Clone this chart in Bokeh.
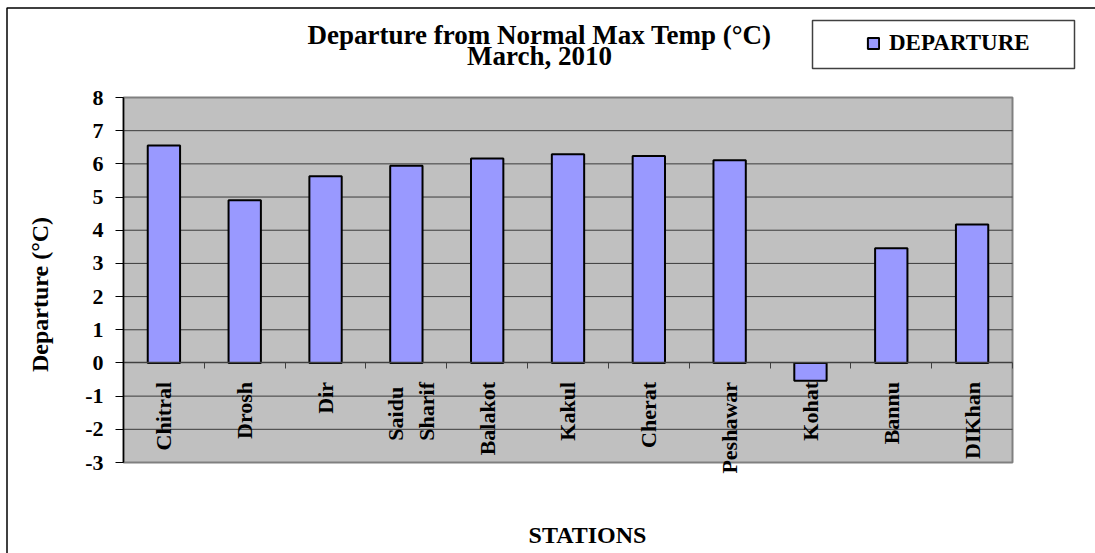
import math

from bokeh.embed import file_html
from bokeh.models import (BoxAnnotation, ColumnDataSource, FixedTicker, Label,
                          LabelSet, Legend, LegendItem, Range1d)
from bokeh.plotting import figure
from bokeh.resources import INLINE

# Departure of monthly mean maximum temperature from normal, March 2010
stations = ["Chitral", "Drosh", "Dir", "Saidu\nSharif", "Balakot", "Kakul",
            "Cherat", "Peshawar", "Kohat", "Bannu", "DIKhan"]
departure = [6.55, 4.90, 5.63, 5.94, 6.16, 6.29, 6.24, 6.11, -0.54, 3.46, 4.17]
y_ticks = list(range(-3, 9))

title_line1 = "Departure from Normal Max Temp (°C)"
title_line2 = "March, 2010"
y_title = "Departure  (°C)"
x_title = "STATIONS"
series_name = "DEPARTURE"

W, H = 1095, 553
FONT = "Liberation Serif"
BAR_FILL = "#9999FF"
PLOT_BG = "#C0C0C0"

# the plotting area occupies this pixel box of the canvas; the ranges are
# stretched so that the whole canvas is drawable (nothing gets clipped)
AREA_L, AREA_R, AREA_T, AREA_B = 123, 1012, 97, 462
n = len(stations)
y_lo, y_hi = min(y_ticks), max(y_ticks)
px_x = (AREA_R - AREA_L) / n
px_y = (AREA_B - AREA_T) / (y_hi - y_lo)
x_range = Range1d(-AREA_L / px_x, n + (W - AREA_R) / px_x)
y_range = Range1d(y_lo - (H - AREA_B) / px_y, y_hi + AREA_T / px_y)

positions = [i + 0.5 for i in range(n)]
# two-line station names sit slightly right of the bar centre
label_dx = [5 if "\n" in s else 0 for s in stations]
source = ColumnDataSource(dict(x=positions, dep=departure, station=stations,
                               base=[0] * n, dx=label_dx))
grid_y = [t for t in y_ticks if y_lo < t < y_hi and t != 0]
grid_src = ColumnDataSource(dict(y=grid_y, x0=[0] * len(grid_y), x1=[n] * len(grid_y)))

p = figure(width=W, height=H, output_backend="svg", toolbar_location=None,
           x_range=x_range, y_range=y_range, title=None,
           min_border_left=0, min_border_right=0, min_border_top=0,
           min_border_bottom=0)
p.background_fill_color = "white"
p.border_fill_color = "white"
p.outline_line_color = None
p.grid.visible = False

# plot area panel
p.add_layout(BoxAnnotation(left=0, right=n, bottom=y_lo, top=y_hi, level="image",
                           fill_color=PLOT_BG, fill_alpha=1,
                           line_color="#808080", line_alpha=1, line_width=2))

# horizontal gridlines
p.segment(x0="x0", x1="x1", y0="y", y1="y", source=grid_src,
          line_color="#3a3a3a", line_width=1)

# value axis on the left edge of the plot area
p.yaxis.fixed_location = 0
p.yaxis.bounds = (y_lo, y_hi)
p.yaxis.ticker = FixedTicker(ticks=y_ticks)
p.yaxis.major_label_overrides = {t: str(t) for t in y_ticks}
p.yaxis.axis_line_color = "black"
p.yaxis.axis_line_width = 1.5
p.yaxis.major_tick_line_color = "black"
p.yaxis.major_tick_out = 8
p.yaxis.major_tick_in = 0
p.yaxis.minor_tick_line_color = None
p.yaxis.major_label_standoff = 12
p.yaxis.major_label_text_font = FONT
p.yaxis.major_label_text_font_style = "bold"
p.yaxis.major_label_text_font_size = "22px"
p.yaxis.major_label_text_color = "black"

# category axis on the zero line with ticks between stations
x_ticks = list(range(1, n + 1))
p.xaxis.fixed_location = 0
p.xaxis.bounds = (0, n)
p.xaxis.ticker = FixedTicker(ticks=x_ticks)
p.xaxis.major_label_overrides = {t: "" for t in x_ticks}
p.xaxis.axis_line_color = "#404040"
p.xaxis.axis_line_width = 1.5
p.xaxis.major_tick_line_color = "#404040"
p.xaxis.major_tick_out = 6
p.xaxis.major_tick_in = 0
p.xaxis.minor_tick_line_color = None

bars = p.vbar(x="x", top="dep", bottom=0, width=0.4, source=source,
              fill_color=BAR_FILL, line_color="black", line_width=2)

station_labels = LabelSet(x="x", y="base", text="station", source=source,
                          x_offset="dx", angle=math.pi / 2, text_align="right",
                          text_baseline="middle", y_offset=-19,
                          text_font=FONT, text_font_style="bold",
                          text_font_size="22px", text_color="black",
                          text_line_height=1.25)
p.add_layout(station_labels)

# titles (screen positions measured up from the canvas bottom)
for txt, yy in ((title_line1, H - 34), (title_line2, H - 55.5)):
    p.add_layout(Label(x=539, y=yy, x_units="screen", y_units="screen", text=txt,
                       text_align="center", text_baseline="alphabetic",
                       text_font=FONT, text_font_style="bold",
                       text_font_size="27px", text_color="black"))

p.add_layout(Label(x=39, y=H - 291, x_units="screen", y_units="screen",
                   text=y_title, angle=math.pi / 2, text_align="center",
                   text_baseline="middle", text_font=FONT, text_font_style="bold",
                   text_font_size="24px", text_color="black"))

p.add_layout(Label(x=587, y=H - 534, x_units="screen", y_units="screen",
                   text=x_title, text_align="center", text_baseline="middle",
                   text_font=FONT, text_font_style="bold",
                   text_font_size="24px", text_color="black"))

# legend frame and outer chart border
p.add_layout(BoxAnnotation(left=812, right=1074, top=H - 20, bottom=H - 68,
                           left_units="screen", right_units="screen",
                           top_units="screen", bottom_units="screen",
                           fill_alpha=0, line_color="#404040", line_alpha=1,
                           line_width=1.5))
p.add_layout(BoxAnnotation(left=6.5, right=W + 20, top=H - 7.5, bottom=-20,
                           left_units="screen", right_units="screen",
                           top_units="screen", bottom_units="screen",
                           fill_alpha=0, line_color="black", line_alpha=1,
                           line_width=1.5))

legend = Legend(items=[LegendItem(label=series_name, renderers=[bars])],
                location=(866, H - 56), padding=0, margin=0, spacing=0,
                glyph_width=14, glyph_height=14, label_standoff=9,
                label_text_font=FONT, label_text_font_style="bold",
                label_text_font_size="23px", label_text_color="black",
                border_line_alpha=0, background_fill_alpha=0)
p.add_layout(legend)

open("out.html", "w").write(file_html(p, INLINE))
